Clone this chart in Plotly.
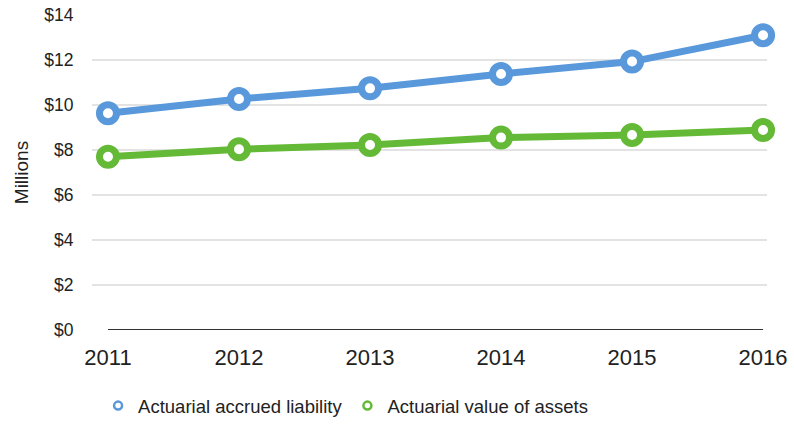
import plotly.graph_objects as go

years = [2011, 2012, 2013, 2014, 2015, 2016]
liability = [9.63, 10.27, 10.74, 11.38, 11.93, 13.1]
assets = [7.70, 8.03, 8.22, 8.55, 8.67, 8.89]
y_ticks = [0, 2, 4, 6, 8, 10, 12, 14]
y_tick_labels = ["$0", "$2", "$4", "$6", "$8", "$10", "$12", "$14"]

BLUE = "#5898DB"
GREEN = "#64B936"

fig = go.Figure()
for name, vals, col in [("Actuarial accrued liability", liability, BLUE),
                        ("Actuarial value of assets", assets, GREEN)]:
    fig.add_trace(go.Scatter(
        x=years, y=vals, name=name, mode="lines+markers", showlegend=False,
        line=dict(color=col, width=7),
        marker=dict(symbol="circle", size=17, color="white",
                    line=dict(color=col, width=7)),
        cliponaxis=False,
    ))
    fig.add_trace(go.Scatter(
        x=[None], y=[None], name=name, mode="markers", showlegend=True,
        marker=dict(symbol="circle", size=8, color="white",
                    line=dict(color=col, width=2.5)),
    ))

fig.add_shape(type="line", xref="x", yref="y", x0=2011, x1=2016, y0=0, y1=0,
              line=dict(color="#333333", width=2), layer="above")

fig.update_layout(
    width=794, height=427,
    margin=dict(l=92, r=27, t=15, b=97, autoexpand=False),
    paper_bgcolor="white", plot_bgcolor="white",
    font=dict(family="Liberation Sans, Arial, sans-serif", color="#222222"),
    showlegend=True,
    legend=dict(orientation="h", x=0.009, xanchor="left",
                yref="container", y=0.049, yanchor="middle",
                font=dict(size=18.5), itemwidth=30,
                bgcolor="rgba(0,0,0,0)"),
    xaxis=dict(range=[2010.878, 2016.03], tickvals=years,
               ticktext=[str(y) for y in years], automargin=False,
               tickfont=dict(size=22), showgrid=False, zeroline=False,
               showline=False, ticks="outside", ticklen=8, tickcolor="rgba(0,0,0,0)"),
    yaxis=dict(range=[0, 14], tickvals=y_ticks, ticktext=y_tick_labels,
               automargin=False,
               tickfont=dict(size=17.5), showgrid=True, gridcolor="#e3e3e3", gridwidth=2,
               zeroline=False, showline=False, ticks="outside", ticklen=14,
               tickcolor="rgba(0,0,0,0)",
               title=dict(text="Millions", font=dict(size=19), standoff=10)),
)

fig.write_html("out.html", config={"displayModeBar": False},
               post_script="document.body.style.margin='0';document.body.style.overflow='hidden';")
